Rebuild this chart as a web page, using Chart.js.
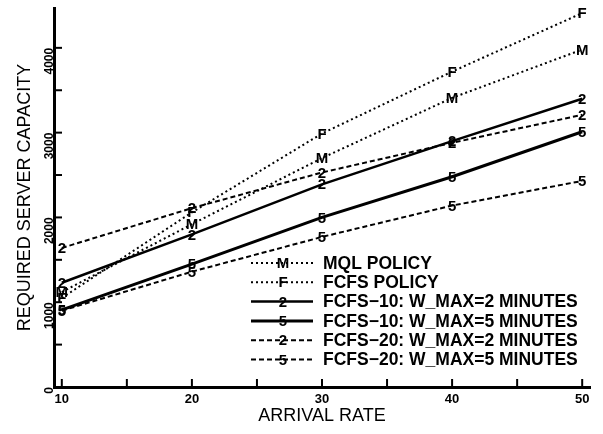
<!DOCTYPE html>
<html>
<head>
<meta charset="utf-8">
<script src="https://cdn.jsdelivr.net/npm/chart.js@4.4.1/dist/chart.umd.min.js"></script>
<style>
  body { margin: 0; background: #fff; }
</style>
</head>
<body>
<canvas id="capacity-chart" width="603" height="434"></canvas>
<script>
const arrivalRate = [10, 20, 30, 40, 50];
const mqlPolicy  = [1120, 1920, 2700, 3410, 3980];
const fcfsPolicy = [1050, 2060, 2990, 3720, 4410];
const fcfs10w2   = [1230, 1800, 2390, 2900, 3400];
const fcfs10w5   = [910, 1450, 2000, 2480, 3010];
const fcfs20w2   = [1640, 2110, 2530, 2880, 3210];
const fcfs20w5   = [900, 1360, 1770, 2140, 2430];

const xTicks = [10, 15, 20, 25, 30, 35, 40, 45, 50];
const yTicks = [0, 500, 1000, 1500, 2000, 2500, 3000, 3500, 4000];

const FONT = '"Liberation Sans", Arial, sans-serif';

function pts(arr) {
  return arrivalRate.map((x, i) => ({ x: x, y: arr[i] }));
}

const series = [
  { label: 'MQL POLICY', marker: 'M', data: mqlPolicy, width: 2, dash: [2, 3] },
  { label: 'FCFS POLICY', marker: 'F', data: fcfsPolicy, width: 2, dash: [2, 3] },
  { label: 'FCFS\u221210: W_MAX=2 MINUTES', marker: '2', data: fcfs10w2, width: 2.5, dash: [] },
  { label: 'FCFS\u221210: W_MAX=5 MINUTES', marker: '5', data: fcfs10w5, width: 3, dash: [] },
  { label: 'FCFS\u221220: W_MAX=2 MINUTES', marker: '2', data: fcfs20w2, width: 2, dash: [5, 3] },
  { label: 'FCFS\u221220: W_MAX=5 MINUTES', marker: '5', data: fcfs20w5, width: 2, dash: [5, 3] }
];

// text markers drawn at each point
const markerPlugin = {
  id: 'markers',
  afterDatasetsDraw(chart) {
    const ctx = chart.ctx;
    ctx.save();
    ctx.fillStyle = '#000';
    ctx.font = 'bold 15px ' + FONT;
    ctx.textAlign = 'center';
    ctx.textBaseline = 'middle';
    chart.data.datasets.forEach((ds, i) => {
      chart.getDatasetMeta(i).data.forEach(pt => {
        ctx.fillText(ds.marker, pt.x, pt.y + 1);
      });
    });
    ctx.restore();
  }
};

// inward tick marks + legend inside the plot
const extrasPlugin = {
  id: 'extras',
  afterDraw(chart) {
    const ctx = chart.ctx;
    const area = chart.chartArea;
    const xs = chart.scales.x, ys = chart.scales.y;
    ctx.save();
    ctx.strokeStyle = '#000';
    ctx.lineWidth = 2;
    yTicks.forEach(v => {
      const y = ys.getPixelForValue(v);
      ctx.beginPath(); ctx.moveTo(area.left, y); ctx.lineTo(area.left + 8, y); ctx.stroke();
    });
    xTicks.forEach(v => {
      const x = xs.getPixelForValue(v);
      ctx.beginPath(); ctx.moveTo(x, area.bottom); ctx.lineTo(x, area.bottom - 8); ctx.stroke();
    });

    // legend
    const rowY = 263, rowH = 19.3;
    chart.data.datasets.forEach((ds, i) => {
      const y = rowY + i * rowH;
      ctx.lineWidth = ds.borderWidth;
      ctx.setLineDash(ds.borderDash);
      ctx.beginPath(); ctx.moveTo(251, y); ctx.lineTo(313, y); ctx.stroke();
      ctx.setLineDash([]);
      ctx.fillStyle = '#000';
      ctx.font = 'bold 15px ' + FONT;
      ctx.textAlign = 'center';
      ctx.textBaseline = 'middle';
      ctx.fillText(ds.marker, 283, y + 1);
      ctx.font = 'bold 17.5px ' + FONT;
      ctx.textAlign = 'left';
      ctx.fillText(ds.label, 323, y + 1, 258);
    });
    ctx.restore();
  }
};

new Chart(document.getElementById('capacity-chart'), {
  type: 'line',
  data: {
    datasets: series.map(s => ({
      label: s.label,
      marker: s.marker,
      data: pts(s.data),
      borderColor: '#000',
      borderWidth: s.width,
      borderDash: s.dash,
      pointRadius: 0,
      fill: false,
      tension: 0
    }))
  },
  options: {
    responsive: false,
    animation: false,
    layout: { padding: { top: 8, right: 13, left: 0, bottom: 0 } },
    plugins: { legend: { display: false }, tooltip: { enabled: false } },
    scales: {
      x: {
        type: 'linear',
        min: 9.4,
        max: 50.6,
        afterBuildTicks: s => { s.ticks = xTicks.map(v => ({ value: v })); },
        afterFit: s => { s.height = 47; s.paddingLeft = 0; s.paddingRight = 0; },
        grid: { display: false, drawTicks: false },
        border: { display: true, color: '#000', width: 3 },
        ticks: {
          color: '#000',
          padding: 5,
          maxRotation: 0,
          autoSkip: false,
          font: { family: FONT, size: 13, weight: 'bold' },
          callback: v => (v % 10 === 0 ? String(v) : '')
        },
        title: {
          display: true,
          text: 'ARRIVAL RATE',
          color: '#000',
          font: { family: FONT, size: 18 },
          padding: { top: 0, bottom: 7 }
        }
      },
      y: {
        type: 'linear',
        min: 0,
        max: 4470,
        afterBuildTicks: s => { s.ticks = yTicks.map(v => ({ value: v })); },
        afterFit: s => { s.width = 54; s.paddingTop = 0; s.paddingBottom = 0; },
        grid: { display: false, drawTicks: false },
        border: { display: true, color: '#000', width: 3 },
        ticks: {
          color: '#000',
          padding: 4,
          minRotation: 90,
          maxRotation: 90,
          autoSkip: false,
          font: { family: FONT, size: 12, weight: 'bold' },
          callback: v => (v % 1000 === 0 ? String(v) : '')
        },
        title: {
          display: true,
          text: 'REQUIRED SERVER CAPACITY',
          color: '#000',
          font: { family: FONT, size: 18 },
          padding: { top: 14, bottom: 0 }
        }
      }
    }
  },
  plugins: [markerPlugin, extrasPlugin]
});
</script>
</body>
</html>
